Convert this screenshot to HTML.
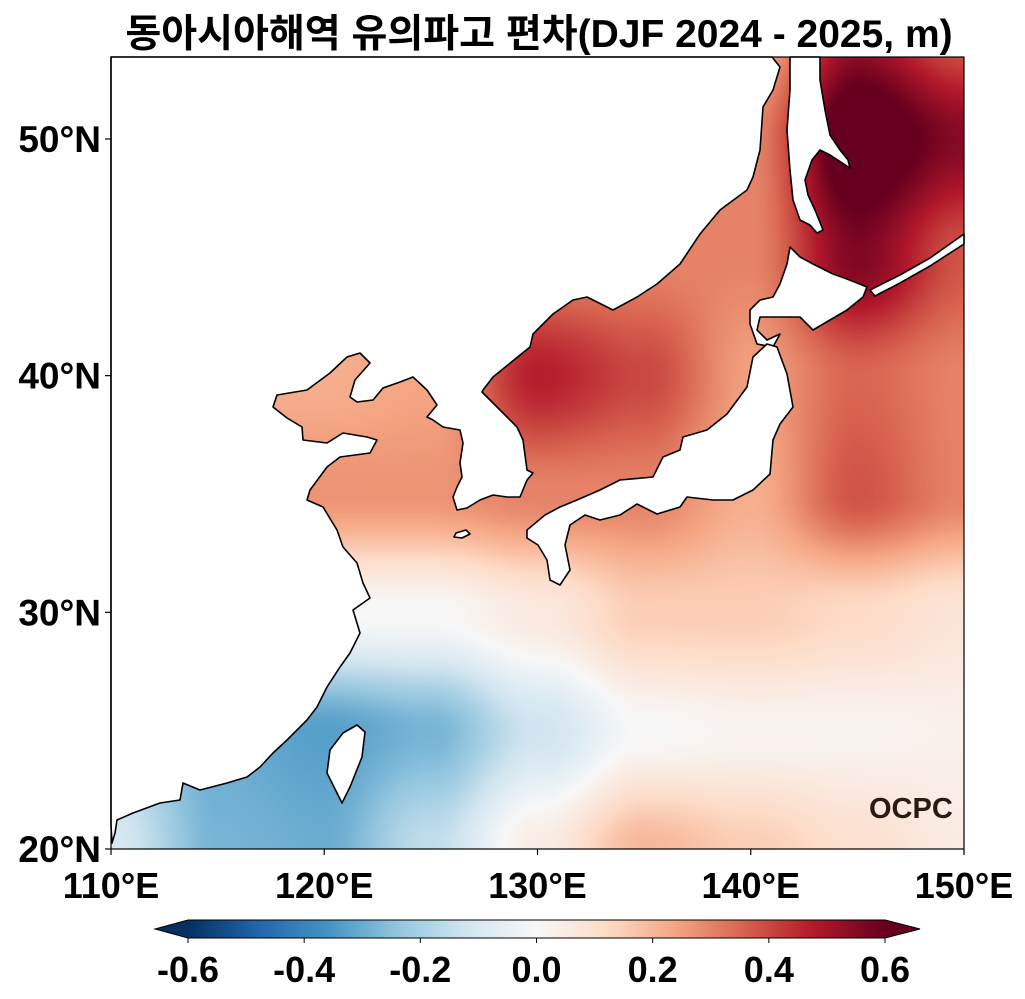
<!DOCTYPE html>
<html><head><meta charset="utf-8">
<style>
html,body{margin:0;padding:0;background:#fff;width:1025px;height:999px;overflow:hidden}
body{position:relative;font-family:"Liberation Sans","Noto Sans CJK KR",sans-serif}
.t{position:absolute;font-weight:bold;color:#000;white-space:nowrap}
</style></head>
<body>
<div class="t" style="left:0;width:1078px;text-align:center;top:3px;font-size:39px;">동아시아해역 유의파고 편차(DJF 2024 - 2025, m)</div>
<canvas id="field" width="853" height="792" style="position:absolute;left:111px;top:57px"></canvas>
<svg id="ov" width="1025" height="999" style="position:absolute;left:0;top:0"></svg>
<div class="t" style="left:869px;top:793px;font-size:29px;color:#2a1a14;">OCPC</div>
<script>
const lons=[110,115,120,125,130,135,140,145,150];
const lats=[20,25,30,35,40,45,50,55];
const row20=[-0.1,-0.28,-0.3,-0.15,0.05,0.2,0.15,0.1,0.05];
const row25=[-0.2,-0.3,-0.33,-0.28,-0.12,0.0,0.02,0.02,0.03];
const row30=[0.0,0.0,0.0,0.0,0.06,0.15,0.15,0.12,0.08];
const row35=[0.27,0.27,0.27,0.27,0.3,0.3,0.22,0.38,0.3];
const row40=[0.22,0.22,0.22,0.24,0.47,0.4,0.25,0.35,0.3];
const row45=[0.25,0.25,0.25,0.3,0.3,0.3,0.3,0.56,0.38];
const row50=[0.3,0.3,0.3,0.3,0.3,0.3,0.3,0.68,0.55];
const row55=[0.2,0.2,0.2,0.2,0.2,0.2,0.2,0.5,0.35];
const grid=[row20,row25,row30,row35,row40,row45,row50,row55];
const cbTicks=[-0.6,-0.4,-0.2,0.0,0.2,0.4,0.6];
const xTicks=[110,120,130,140,150];
const yTicks=[20,30,40,50];

const X0=111,X1=964,Y20=849,PPD=23.667;
function xs(lon){return X0+(lon-110)*(X1-X0)/40;}
function ys(lat){return Y20-(lat-20)*PPD;}
const stops=["#053061","#2166ac","#4393c3","#92c5de","#d1e5f0","#f7f7f7","#fddbc7","#f4a582","#d6604d","#b2182b","#67001f"].map(h=>[parseInt(h.substr(1,2),16),parseInt(h.substr(3,2),16),parseInt(h.substr(5,2),16)]);
function cmap(v){let t=(v+0.6)/1.2*10;t=Math.max(0,Math.min(10,t));const i=Math.min(9,Math.floor(t)),f=t-i;const a=stops[i],b=stops[i+1];return [a[0]+(b[0]-a[0])*f,a[1]+(b[1]-a[1])*f,a[2]+(b[2]-a[2])*f];}
function sm(f){return f*f*(3-2*f);}
function val(lon,lat){
  let fi=(lon-110)/5,fj=(lat-20)/5;
  fi=Math.max(0,Math.min(7.999,fi));fj=Math.max(0,Math.min(6.999,fj));
  const i=Math.floor(fi),j=Math.floor(fj),u=sm(fi-i),w=sm(fj-j);
  const a=grid[j][i],b=grid[j][i+1],c=grid[j+1][i],d=grid[j+1][i+1];
  return a*(1-u)*(1-w)+b*u*(1-w)+c*(1-u)*w+d*u*w;
}
const cv=document.getElementById('field'),ctx=cv.getContext('2d');
const img=ctx.createImageData(cv.width,cv.height);
for(let py=0;py<cv.height;py++){const lat=20+(Y20-(py+57))/PPD;
 for(let px=0;px<cv.width;px++){const lon=110+(px)*40/(X1-X0);
  const c=cmap(val(lon,lat));const k=(py*cv.width+px)*4;
  img.data[k]=c[0];img.data[k+1]=c[1];img.data[k+2]=c[2];img.data[k+3]=255;}}
ctx.putImageData(img,0,0);

const NS="http://www.w3.org/2000/svg";
const svg=document.getElementById('ov');
function mk(tag,attrs){const e=document.createElementNS(NS,tag);for(const k in attrs)e.setAttribute(k,attrs[k]);svg.appendChild(e);return e;}
const lands={
 "mainland":"111,825 111,57 772,57 780,67 773,90 763,107 760,150 753,177 747,190 720,210 700,234 680,264 657,284 637,297 613,310 587,297 573,300 553,314 533,334 530,347 493,377 483,390 482,392 493,403 517,427 523,440 527,470 533,473 527,480 520,497 507,497 493,495 480,500 467,508 457,510 453,497 457,487 462,477 460,463 463,443 460,430 443,427 433,420 427,417 437,405 427,390 413,377 400,382 383,388 373,400 357,402 350,397 355,380 370,363 360,353 347,357 330,373 307,390 277,395 273,407 287,418 302,427 303,440 327,443 343,433 367,437 377,440 370,453 340,457 327,467 310,490 307,500 323,507 337,530 343,547 357,563 363,583 370,598 353,610 360,633 350,653 340,667 327,687 317,707 307,720 287,740 273,753 260,767 247,777 227,783 200,790 183,783 180,800 160,803 133,813 117,820 115,833 112,843",
 "sakhalin":"790,57 790,90 787,130 790,170 793,200 800,220 810,225 817,233 823,230 815,210 808,195 805,180 812,160 820,150 830,155 850,168 848,160 840,150 830,135 825,110 820,80 820,57",
 "hokkaido":"790,247 800,257 813,264 833,274 847,279 867,287 863,297 847,310 830,320 813,330 800,317 780,317 760,317 757,330 767,340 780,334 773,347 757,344 750,324 750,310 760,300 773,297 780,284 787,264",
 "honshu":"527,530 545,515 560,507 577,500 600,490 620,480 653,477 663,457 680,450 683,437 707,430 727,414 747,387 753,357 767,344 777,347 787,374 793,407 780,424 773,440 770,474 753,490 733,500 713,500 687,497 680,507 657,514 637,504 620,515 600,520 585,515 570,525 565,545 570,570 560,585 550,580 547,560 538,545 527,538",
 "taiwan":"357,725 365,732 362,757 350,787 342,803 337,793 327,773 330,750 343,733",
 "kurils":"870,290 900,275 930,258 964,234 964,244 930,266 900,283 875,296",
 "jeju":"456,533 466,530 470,534 462,538 454,537"
};
for(const k in lands){
 const p=mk('polygon',{points:lands[k],fill:'#fff',stroke:'#000','stroke-width':1.6,'stroke-linejoin':'round'});
 
 
}
const fr=mk('rect',{x:X0,y:57,width:X1-X0,height:Y20-57,fill:'none',stroke:'#000','stroke-width':1.2});


xTicks.forEach(v=>{
 const x=xs(v);
 const l=mk('line',{x1:x,x2:x,y1:Y20,y2:Y20+6,stroke:'#000','stroke-width':1.2});
 
 
 const t=mk('text',{x:x,y:898,'text-anchor':'middle','font-size':36,'font-weight':'bold','font-family':'Liberation Sans, sans-serif'});
 t.textContent=v+'°E';
 
 
});
yTicks.forEach(v=>{
 const y=ys(v);
 const l=mk('line',{x1:X0-6,x2:X0,y1:y,y2:y,stroke:'#000','stroke-width':1.2});
 
 
 const t=mk('text',{x:101,y:y+13,'text-anchor':'end','font-size':37,'font-weight':'bold','font-family':'Liberation Sans, sans-serif'});
 t.textContent=v+'°N';
 
 
});
const CB0=188,CB1=885,CBY=920,CBH=18;
function cx(v){return CB0+(v+0.6)/1.2*(CB1-CB0);}
const defs=mk('defs',{});
const lg=document.createElementNS(NS,'linearGradient');lg.setAttribute('id','cbg');lg.setAttribute('x1','0');lg.setAttribute('x2','1');
defs.appendChild(lg);
for(let i=0;i<=40;i++){const v=-0.6+1.2*i/40;const c=cmap(v);const s=document.createElementNS(NS,'stop');s.setAttribute('offset',(i/40));s.setAttribute('stop-color','rgb('+c.map(Math.round).join(',')+')');lg.appendChild(s);}
const cb=mk('rect',{x:CB0,y:CBY,width:CB1-CB0,height:CBH,fill:'url(#cbg)'});


const lo=cmap(-0.7),hi=cmap(0.7);
const tl=mk('polygon',{points:`${CB0},${CBY} 155,${CBY+CBH/2} ${CB0},${CBY+CBH}`,fill:'rgb('+lo.map(Math.round).join(',')+')'});


const tr=mk('polygon',{points:`${CB1},${CBY} 920,${CBY+CBH/2} ${CB1},${CBY+CBH}`,fill:'rgb('+hi.map(Math.round).join(',')+')'});


const ob=mk('polygon',{points:`155,${CBY+CBH/2} ${CB0},${CBY} ${CB1},${CBY} 920,${CBY+CBH/2} ${CB1},${CBY+CBH} ${CB0},${CBY+CBH}`,fill:'none',stroke:'#000','stroke-width':1});


cbTicks.forEach(v=>{
 const x=cx(v);
 const l=mk('line',{x1:x,x2:x,y1:CBY+CBH,y2:CBY+CBH+5,stroke:'#000','stroke-width':1});
 
 
 const t=mk('text',{x:x,y:982,'text-anchor':'middle','font-size':36,'font-weight':'bold','font-family':'Liberation Sans, sans-serif'});
 t.textContent=v.toFixed(1);
 
 
});
</script>
</body></html>
